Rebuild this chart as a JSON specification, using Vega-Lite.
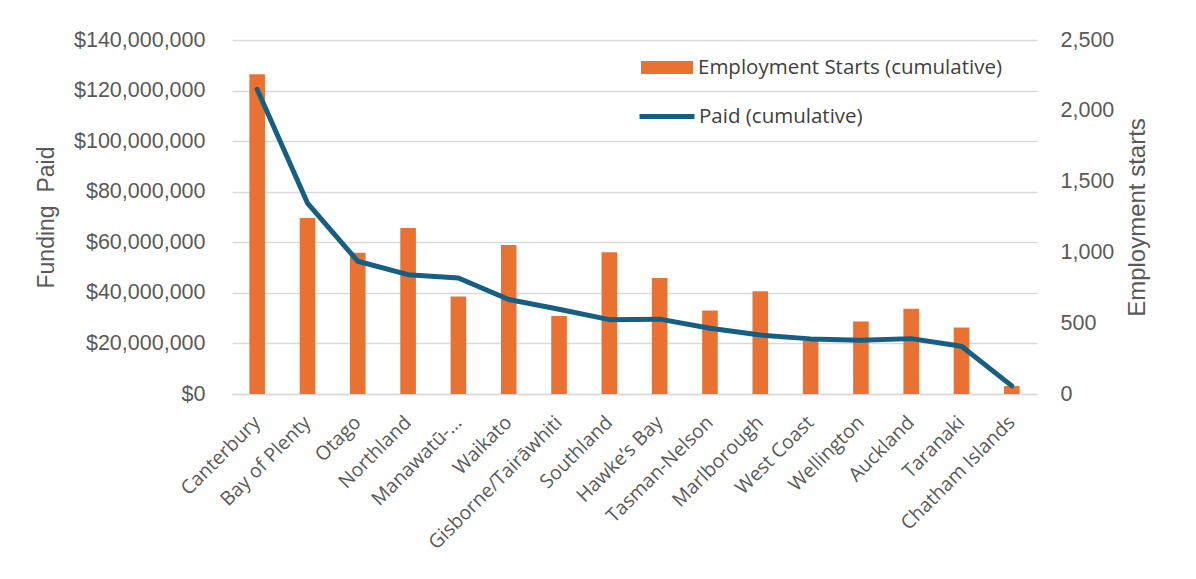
{
  "$schema": "https://vega.github.io/schema/vega-lite/v6.json",
  "width": 805,
  "height": 354,
  "autosize": {"type": "none"},
  "padding": {"left": 232, "top": 40, "right": 159, "bottom": 185},
  "background": "white",
  "config": {
    "view": {"stroke": null},
    "font": "Liberation Sans",
    "legend": {"padding": 0}
  },
  "data": {
    "values": [
      {"region": "Canterbury", "starts": 2258, "paid": 120500000},
      {"region": "Bay of Plenty", "starts": 1243, "paid": 75500000},
      {"region": "Otago", "starts": 997, "paid": 52500000},
      {"region": "Northland", "starts": 1173, "paid": 47200000},
      {"region": "Manawatū-Whanganui", "starts": 689, "paid": 45900000},
      {"region": "Waikato", "starts": 1053, "paid": 37400000},
      {"region": "Gisborne/Tairāwhiti", "starts": 550, "paid": 33500000},
      {"region": "Southland", "starts": 1001, "paid": 29400000},
      {"region": "Hawke’s Bay", "starts": 820, "paid": 29600000},
      {"region": "Tasman-Nelson", "starts": 590, "paid": 26000000},
      {"region": "Marlborough", "starts": 726, "paid": 23300000},
      {"region": "West Coast", "starts": 375, "paid": 21800000},
      {"region": "Wellington", "starts": 512, "paid": 21300000},
      {"region": "Auckland", "starts": 602, "paid": 21900000},
      {"region": "Taranaki", "starts": 470, "paid": 18900000},
      {"region": "Chatham Islands", "starts": 56, "paid": 3200000}
    ]
  },
  "encoding": {
    "x": {
      "field": "region",
      "type": "nominal",
      "sort": null,
      "scale": {"paddingInner": 0.69, "paddingOuter": 0.345},
      "axis": {
        "title": null,
        "labelAngle": -45,
        "labelAlign": "right",
        "labelBaseline": "middle",
        "labelPadding": 25,
        "labelFont": "Open Sans",
        "labelFontSize": 19.5,
        "labelColor": "#595959",
        "labelLimit": 300,
        "labelExpr": "datum.value == 'Manawatū-Whanganui' ? 'Manawatū-…' : datum.value",
        "ticks": false,
        "domain": true,
        "domainColor": "#D9D9D9",
        "domainWidth": 1.5,
        "grid": false
      }
    }
  },
  "layer": [
    {
      "mark": {"type": "bar"},
      "encoding": {
        "y": {
          "field": "starts",
          "type": "quantitative",
          "scale": {"domain": [0, 2500]},
          "axis": {
            "orient": "right",
            "values": [0, 500, 1000, 1500, 2000, 2500],
            "format": ",d",
            "grid": false,
            "ticks": false,
            "domain": false,
            "labelPadding": 23,
            "labelFontSize": 21.5,
            "labelColor": "#595959",
            "title": "Employment starts",
            "titleFontSize": 24,
            "titleFontWeight": "normal",
            "titleColor": "#595959",
            "titleAngle": -90,
            "titleBaseline": "bottom",
            "titleAlign": "center",
            "titleX": 112,
            "titleY": 177
          }
        },
        "color": {
          "datum": "Employment Starts (cumulative)",
          "type": "nominal",
          "scale": {"range": ["#E97132"]},
          "legend": {
            "title": null,
            "orient": "none",
            "legendX": 409,
            "legendY": 1.5,
            "symbolType": "M-1,-0.25H1V0.25H-1Z",
            "symbolSize": 2704,
            "symbolStrokeWidth": 0,
            "labelOffset": 5,
            "labelFont": "Open Sans",
            "labelFontSize": 20.5,
            "labelColor": "#404040",
            "labelLimit": 400
          }
        }
      }
    },
    {
      "mark": {"type": "line", "strokeWidth": 5, "strokeCap": "round", "strokeJoin": "round"},
      "encoding": {
        "y": {
          "field": "paid",
          "type": "quantitative",
          "scale": {"domain": [0, 140000000]},
          "axis": {
            "orient": "left",
            "values": [0, 20000000, 40000000, 60000000, 80000000, 100000000, 120000000, 140000000],
            "format": "$,.0f",
            "grid": true,
            "gridColor": "#D9D9D9",
            "gridWidth": 1.5,
            "ticks": false,
            "domain": false,
            "labelPadding": 27,
            "labelFontSize": 21.5,
            "labelColor": "#595959",
            "title": "Funding\u00a0\u00a0Paid",
            "titleFontSize": 23,
            "titleFontWeight": "normal",
            "titleColor": "#595959",
            "titleAngle": -90,
            "titleBaseline": "bottom",
            "titleAlign": "center",
            "titleX": -174,
            "titleY": 177
          }
        },
        "stroke": {
          "datum": "Paid (cumulative)",
          "type": "nominal",
          "scale": {"range": ["#156082"]},
          "legend": {
            "title": null,
            "orient": "none",
            "legendX": 405,
            "legendY": 46.5,
            "symbolType": "M-1,0H1",
            "symbolSize": 3025,
            "symbolStrokeWidth": 5,
            "symbolFillColor": "transparent",
            "labelOffset": 2,
            "labelFont": "Open Sans",
            "labelFontSize": 20.5,
            "labelColor": "#404040",
            "labelLimit": 400
          }
        }
      }
    }
  ],
  "resolve": {"scale": {"y": "independent", "color": "independent", "stroke": "independent"}}
}
